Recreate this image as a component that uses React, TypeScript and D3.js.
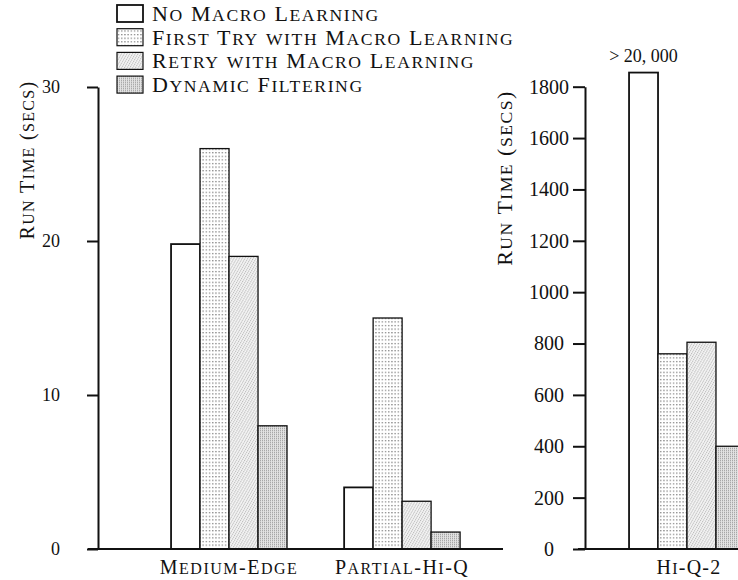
import * as d3 from "d3";
import { useEffect, useRef } from "react";

const seriesNames = [
  "No Macro Learning",
  "First Try with Macro Learning",
  "Retry with Macro Learning",
  "Dynamic Filtering",
];
const seriesKeys = ["none", "first", "retry", "dynamic"];

const leftCategories = ["Medium-Edge", "Partial-Hi-Q"];
const leftNoMacro = [19.8, 4.0];
const leftFirstTry = [26.0, 15.0];
const leftRetry = [19.0, 3.1];
const leftDynamic = [8.0, 1.1];
const leftTicks = [0, 10, 20, 30];

const rightCategories = ["Hi-Q-2"];
const rightNoMacro = [20000];
const rightFirstTry = [760];
const rightRetry = [805];
const rightDynamic = [400];
const rightTicks = [0, 200, 400, 600, 800, 1000, 1200, 1400, 1600, 1800];
// the off-scale bar is drawn broken just above the axis top
const rightCap = 1855;
const rightCapLabel = "> 20, 000";

const width = 738;
const height = 580;
const fontFamily = "'Liberation Serif', 'DejaVu Serif', serif";

type Row = { category: string; key: string; value: number };

function rows(categories: string[], cols: number[][]): Row[] {
  const out: Row[] = [];
  categories.forEach((c, i) => {
    seriesKeys.forEach((k, j) => out.push({ category: c, key: k, value: cols[j][i] }));
  });
  return out;
}

// TeX-like small caps: lower case letters become smaller capitals
function smallCaps(
  text: d3.Selection<SVGTextElement, any, any, any>,
  label: string,
  size: number,
  spacing: number
) {
  const runs: { s: string; low: boolean }[] = [];
  for (const ch of label) {
    const low = ch !== ch.toUpperCase();
    const last = runs[runs.length - 1];
    if (last && last.low === low) last.s += ch;
    else runs.push({ s: ch, low });
  }
  text.attr("letter-spacing", spacing);
  runs.forEach((r) => {
    text
      .append("tspan")
      .attr("font-size", r.low ? size * 0.8 : size)
      .text(r.s.toUpperCase());
  });
}

export default function App() {
  const svgRef = useRef<SVGSVGElement | null>(null);

  useEffect(() => {
    if (!svgRef.current) return;
    const svg = d3.select(svgRef.current);
    svg.selectAll("*").remove();
    svg
      .attr("viewBox", `0 0 ${width} ${height}`)
      .attr("width", width)
      .attr("height", height)
      .style("font-family", fontFamily);

    svg.append("rect").attr("width", width).attr("height", height).attr("fill", "#fff");

    // fill patterns
    const defs = svg.append("defs");
    const dots = defs
      .append("pattern")
      .attr("id", "pat-first")
      .attr("patternUnits", "userSpaceOnUse")
      .attr("width", 3.2)
      .attr("height", 3.6);
    dots.append("rect").attr("width", 3.2).attr("height", 3.6).attr("fill", "#fff");
    dots.append("rect").attr("x", 1).attr("y", 1).attr("width", 1.1).attr("height", 1.1).attr("fill", "#555");

    const hatch = defs
      .append("pattern")
      .attr("id", "pat-retry")
      .attr("patternUnits", "userSpaceOnUse")
      .attr("width", 2.4)
      .attr("height", 4)
      .attr("patternTransform", "rotate(30)");
    hatch.append("rect").attr("width", 2.4).attr("height", 4).attr("fill", "#f6f6f6");
    hatch
      .append("line")
      .attr("x1", 0.6)
      .attr("x2", 0.6)
      .attr("y1", 0)
      .attr("y2", 4)
      .attr("stroke", "#909090")
      .attr("stroke-width", 0.7)
      .attr("stroke-dasharray", "1.4 0.6");

    const stip = defs
      .append("pattern")
      .attr("id", "pat-dynamic")
      .attr("patternUnits", "userSpaceOnUse")
      .attr("width", 2)
      .attr("height", 2);
    stip.append("rect").attr("width", 2).attr("height", 2).attr("fill", "#e2e2e2");
    stip.append("rect").attr("x", 0).attr("y", 0).attr("width", 0.9).attr("height", 1.3).attr("fill", "#a0a0a0");

    const fillFor: Record<string, string> = {
      none: "#fff",
      first: "url(#pat-first)",
      retry: "url(#pat-retry)",
      dynamic: "url(#pat-dynamic)",
    };

    // ---------- left panel ----------
    const yL = d3.scaleLinear().domain([0, 30]).range([549, 87]);
    const xL = d3
      .scaleBand<string>()
      .domain(leftCategories)
      .range([98, 503])
      .paddingInner(0.33)
      .paddingOuter(0.335)
      .align(0.63);
    const innerL = d3.scaleBand<string>().domain(seriesKeys).range([0, xL.bandwidth()]);

    const left = svg.append("g");
    left
      .selectAll("rect.bar")
      .data(rows(leftCategories, [leftNoMacro, leftFirstTry, leftRetry, leftDynamic]))
      .join("rect")
      .attr("class", "bar")
      .attr("x", (d) => (xL(d.category) ?? 0) + (innerL(d.key) ?? 0))
      .attr("y", (d) => yL(d.value))
      .attr("width", innerL.bandwidth())
      .attr("height", (d) => yL(0) - yL(d.value))
      .attr("fill", (d) => fillFor[d.key])
      .attr("stroke", "#111")
      .attr("stroke-width", (d) => (d.key === "none" ? 1.8 : 1.3));

    const axL = left
      .append("g")
      .attr("transform", "translate(98,0)")
      .call(
        d3
          .axisLeft(yL)
          .tickValues(leftTicks)
          .tickFormat(d3.format("d"))
          .tickSize(11)
          .tickSizeOuter(0)
          .tickPadding(27)
      );
    axL.select(".domain").attr("stroke", "#111").attr("stroke-width", 2);
    axL.selectAll(".tick line").attr("stroke", "#111").attr("stroke-width", 2);
    axL.selectAll(".tick text").attr("font-size", 18).attr("fill", "#111").style("font-family", fontFamily);

    left
      .append("line")
      .attr("x1", 88)
      .attr("x2", 503)
      .attr("y1", yL(0))
      .attr("y2", yL(0))
      .attr("stroke", "#111")
      .attr("stroke-width", 2);

    left
      .selectAll("text.cat")
      .data(leftCategories)
      .join("text")
      .attr("class", "cat")
      .attr("x", (d) => (xL(d) ?? 0) + xL.bandwidth() / 2)
      .attr("y", 574)
      .attr("text-anchor", "middle")
      .attr("fill", "#111")
      .each(function (d) {
        smallCaps(d3.select(this as SVGTextElement), d, 20, 1.5);
      });

    const titleL = left
      .append("text")
      .attr("transform", "translate(34,160) rotate(-90)")
      .attr("text-anchor", "middle")
      .attr("fill", "#111");
    smallCaps(titleL, "Run Time (secs)", 20, 1.3);

    // ---------- right panel ----------
    const yR = d3.scaleLinear().domain([0, 1800]).range([549, 86.7]);
    const xR = d3
      .scaleBand<string>()
      .domain(rightCategories)
      .range([585, 789])
      .paddingInner(0)
      .paddingOuter(0.38);
    const innerR = d3.scaleBand<string>().domain(seriesKeys).range([0, xR.bandwidth()]);

    const right = svg.append("g");
    const rightRows = rows(rightCategories, [rightNoMacro, rightFirstTry, rightRetry, rightDynamic]);
    right
      .selectAll("rect.bar")
      .data(rightRows)
      .join("rect")
      .attr("class", "bar")
      .attr("x", (d) => (xR(d.category) ?? 0) + (innerR(d.key) ?? 0))
      .attr("y", (d) => yR(Math.min(d.value, rightCap)))
      .attr("width", innerR.bandwidth())
      .attr("height", (d) => yR(0) - yR(Math.min(d.value, rightCap)))
      .attr("fill", (d) => fillFor[d.key])
      .attr("stroke", "#111")
      .attr("stroke-width", (d) => (d.key === "none" ? 1.8 : 1.3));

    right
      .selectAll("text.cap")
      .data(rightRows.filter((d) => d.value > rightCap))
      .join("text")
      .attr("class", "cap")
      .attr("x", (d) => (xR(d.category) ?? 0) + (innerR(d.key) ?? 0) + innerR.bandwidth() / 2)
      .attr("y", yR(rightCap) - 11)
      .attr("text-anchor", "middle")
      .attr("font-size", 18)
      .attr("fill", "#111")
      .text(rightCapLabel);

    const axR = right
      .append("g")
      .attr("transform", "translate(585,0)")
      .call(
        d3.axisLeft(yR).tickValues(rightTicks).tickFormat(d3.format("d")).tickSize(12).tickSizeOuter(0)
      );
    axR.select(".domain").attr("stroke", "#111").attr("stroke-width", 2);
    axR.selectAll(".tick line").attr("stroke", "#111").attr("stroke-width", 2);
    axR
      .selectAll(".tick text")
      .attr("x", -36)
      .attr("text-anchor", "middle")
      .attr("font-size", 20)
      .attr("fill", "#111")
      .style("font-family", fontFamily);

    right
      .append("line")
      .attr("x1", 578)
      .attr("x2", width)
      .attr("y1", yR(0))
      .attr("y2", yR(0))
      .attr("stroke", "#111")
      .attr("stroke-width", 2);

    right
      .selectAll("text.cat")
      .data(rightCategories)
      .join("text")
      .attr("class", "cat")
      .attr("x", (d) => (xR(d) ?? 0) + xR.bandwidth() / 2 + 2)
      .attr("y", 574)
      .attr("text-anchor", "middle")
      .attr("fill", "#111")
      .each(function (d) {
        smallCaps(d3.select(this as SVGTextElement), d, 20, 1.2);
      });

    const titleR = right
      .append("text")
      .attr("transform", "translate(512,178) rotate(-90)")
      .attr("text-anchor", "middle")
      .attr("fill", "#111");
    smallCaps(titleR, "Run Time (secs)", 22, 1.5);

    // ---------- legend ----------
    const legend = svg
      .append("g")
      .selectAll("g")
      .data(seriesKeys)
      .join("g")
      .attr("transform", (_d, i) => `translate(117,${13 + i * 23.7})`);
    legend
      .append("rect")
      .attr("x", 0)
      .attr("y", -8)
      .attr("width", 26)
      .attr("height", 17)
      .attr("fill", (d) => fillFor[d])
      .attr("stroke", "#111")
      .attr("stroke-width", (d) => (d === "none" ? 1.8 : 1.2));
    legend
      .append("text")
      .attr("x", 35)
      .attr("y", 8)
      .attr("fill", "#111")
      .each(function (_d, i) {
        smallCaps(d3.select(this as SVGTextElement), seriesNames[i], 22, 1.6);
      });
  }, []);

  return (
    <svg
      ref={svgRef}
      style={{ position: "absolute", left: 0, top: 0, display: "block" }}
    />
  );
}
